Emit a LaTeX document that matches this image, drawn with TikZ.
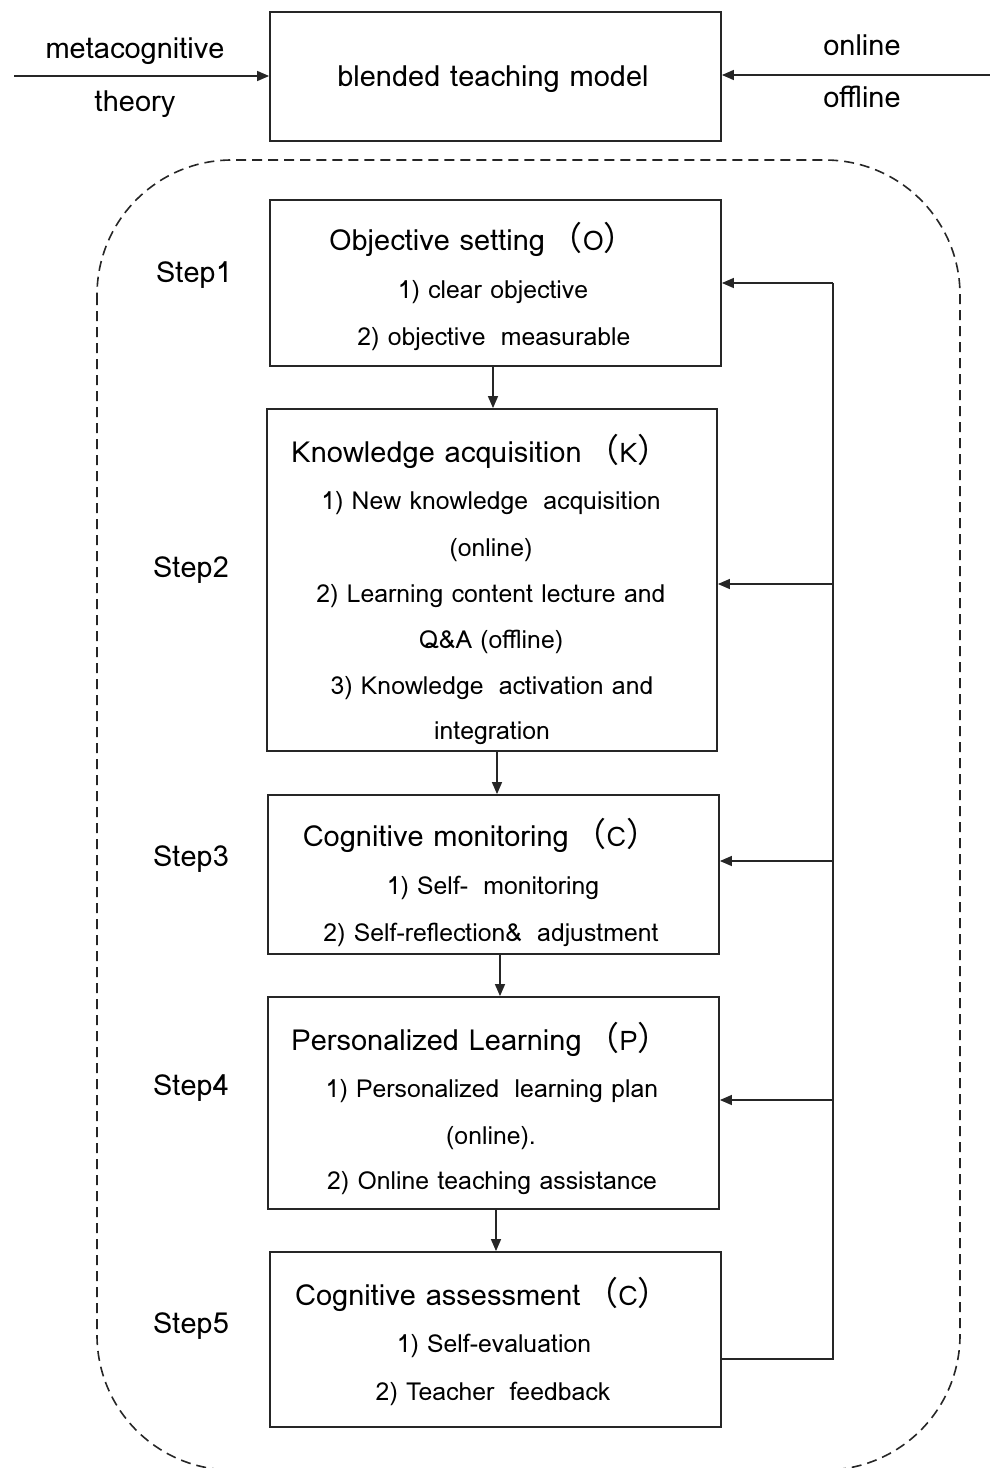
\documentclass[tikz,border=0pt]{standalone}
\usepackage{fontspec}
\setmainfont{Loma}
\newfontfamily\cjk{Noto Sans CJK SC}
\newcommand{\tagletter}[1]{{\cjk\fontsize{33}{34}\selectfont （}{\fontsize{27}{34}\selectfont #1}{\cjk\fontsize{33}{34}\selectfont ）}}
\usetikzlibrary{arrows.meta}
\begin{document}
\begin{tikzpicture}[x=1pt,y=-1pt,
  stepbox/.style={draw=black!85,line width=1.8pt,inner sep=0pt},
  ln/.style={anchor=base,inner sep=0pt,font=\fontsize{24.8}{28}\selectfont},
  ttl/.style={anchor=base,inner sep=0pt,font=\fontsize{29}{34}\selectfont},
  lbl/.style={anchor=base,inner sep=0pt,font=\fontsize{29}{34}\selectfont},
  arr/.style={draw=black!85,line width=1.4pt,-{Triangle[length=12pt,width=10pt]}},
  conn/.style={draw=black!85,line width=1.8pt}]
\useasboundingbox (0,0) rectangle (990,1468);
\begin{scope}
\clip (0,0) rectangle (990,1468);
\draw[black!85,line width=1.6pt,dash pattern=on 10pt off 6pt,rounded corners=135pt] (97,160) rectangle (960,1470);
\end{scope}
% top
\node[stepbox,minimum width=451pt,minimum height=129pt] (top) at (495.5,76.5) {};
\node[lbl] (toptxt) at (493,86) {blended teaching model};
\coordinate (lstart) at (14,76);
\coordinate (rstart) at (990,75);
\draw[arr] (lstart) -- (top.west|-lstart);
\draw[arr] (rstart) -- (top.east|-rstart);
\node[lbl] (meta) at (135,58) {metacognitive};
\node[lbl] (theory) at (135,111) {theory};
\node[lbl] (online) at (862,55) {online};
\node[lbl] (offline) at (862,107) {offline};
% boxes
\node[stepbox,minimum width=451pt,minimum height=166pt] (b1) at (495.5,283) {};
\node[stepbox,minimum width=450pt,minimum height=342pt] (b2) at (492,580) {};
\node[stepbox,minimum width=451pt,minimum height=159pt] (b3) at (493.5,874.5) {};
\node[stepbox,minimum width=451pt,minimum height=212pt] (b4) at (493.5,1103) {};
\node[stepbox,minimum width=451pt,minimum height=175pt] (b5) at (495.5,1339.5) {};
% texts box1
\node[ttl] (t1a) at (483,250) {Objective setting\,\tagletter{O}};
\node[ln] (t1b) at (493,298) {1) clear objective};
\node[ln] (t1c) at (494,345) {2) objective\; measurable};
% box2
\node[ttl] (t2a) at (481,462) {Knowledge acquisition\,\tagletter{K}};
\node[ln] (t2b) at (491,509) {1) New knowledge\; acquisition};
\node[ln] (t2c) at (491,556) {(online)};
\node[ln] (t2d) at (491,602) {2) Learning content lecture and};
\node[ln] (t2e) at (491,648) {Q\&A (offline)};
\node[ln] (t2f) at (492,694) {3) Knowledge\; activation and};
\node[ln] (t2g) at (492,739) {integration};
% box3
\node[ttl] (t3a) at (481,846) {Cognitive monitoring\,\tagletter{C}};
\node[ln] (t3b) at (493,894) {1) Self-\; monitoring};
\node[ln] (t3c) at (491,941) {2) Self-reflection\&\; adjustment};
% box4
\node[ttl] (t4a) at (481,1050) {Personalized Learning\,\tagletter{P}};
\node[ln] (t4b) at (492,1097) {1) Personalized\; learning plan};
\node[ln] (t4c) at (491,1144) {(online).};
\node[ln] (t4d) at (492,1189) {2) Online teaching assistance};
% box5
\node[ttl] (t5a) at (483,1305) {Cognitive assessment\,\tagletter{C}};
\node[ln] (t5b) at (494,1352) {1) Self-evaluation};
\node[ln] (t5c) at (493,1400) {2) Teacher\; feedback};
% steps
\node[lbl] (s1) at (194,282) {Step1};
\node[lbl] (s2) at (191,577) {Step2};
\node[lbl] (s3) at (191,866) {Step3};
\node[lbl] (s4) at (191,1095) {Step4};
\node[lbl] (s5) at (191,1333) {Step5};
% down arrows
\draw[arr] (b1.south-|493,0) -- (b2.north-|493,0);
\draw[arr] (b2.south-|497,0) -- (b3.north-|497,0);
\draw[arr] (b3.south-|500,0) -- (b4.north-|500,0);
\draw[arr] (b4.south-|496,0) -- (b5.north-|496,0);
% feedback
\coordinate (fb5) at (833,1359);
\coordinate (fb1) at (833,283);
\draw[conn] (b5.east|-fb5) -- (fb5) -- (fb1);
\draw[arr] (fb1) -- (b1.east|-fb1);
\draw[arr] (833,584) -- (b2.east|-0,584);
\draw[arr] (833,861) -- (b3.east|-0,861);
\draw[arr] (833,1100) -- (b4.east|-0,1100);
\end{tikzpicture}
\end{document}
